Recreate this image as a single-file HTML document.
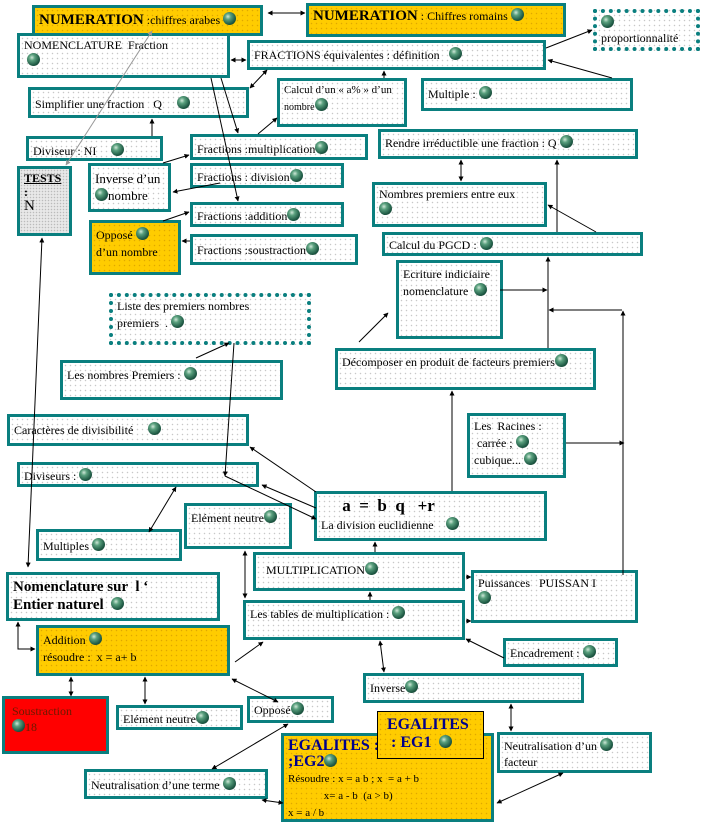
<!DOCTYPE html>
<html><head><meta charset="utf-8"><style>
body{margin:0;width:704px;height:826px;background:#fff;position:relative;overflow:hidden;font-family:"Liberation Serif",serif;font-size:12px;color:#000}
.b{position:absolute;box-sizing:border-box;border:3px solid #0a7f7f;background-color:#fff;background-image:radial-gradient(#c8c8c8 0.6px,transparent 0.9px);background-size:5px 5px;padding:2px 4px;line-height:15px;white-space:nowrap;overflow:hidden}
.y{background-color:#ffcc00;background-image:radial-gradient(#e0a800 0.6px,transparent 0.9px)}
.d{border:4px dotted #0a7f7f}
.g{display:inline-block;width:13px;height:13px;border-radius:50%;background:radial-gradient(circle at 38% 35%,#cfe8d8 0,#5aa07e 25%,#1f5a45 65%,#0b2a20 100%);vertical-align:-1px}
svg{position:absolute;left:0;top:0}
.big{font-weight:bold;font-size:15px}
</style></head><body>
<div class="b y" style="left:32px;top:5px;width:231px;height:31px;padding-top:4px"><span class="big">NUMERATION</span> :chiffres arabes <span class="g"></span></div>
<div class="b y" style="left:306px;top:3px;width:260px;height:34px;padding-top:2px"><span class="big">NUMERATION</span> : Chiffres romains <span class="g"></span></div>
<div class="b d" style="left:593px;top:9px;width:107px;height:42px;padding-top:2px"><span class="g"></span><br>proportionnalité</div>
<div class="b" style="left:17px;top:33px;width:213px;height:45px">NOMENCLATURE &nbsp;Fraction<br>&nbsp;<span class="g"></span></div>
<div class="b" style="left:247px;top:40px;width:299px;height:30px;padding-top:4px">FRACTIONS équivalentes : définition &nbsp;&nbsp;<span class="g"></span></div>
<div class="b" style="left:277px;top:78px;width:130px;height:49px;font-size:11px">Calcul d’un « a% » d’un<br><span style="font-size:10px">nombre</span><span class="g"></span></div>
<div class="b" style="left:421px;top:78px;width:212px;height:33px;padding-top:5px">Multiple : <span class="g"></span></div>
<div class="b" style="left:28px;top:87px;width:221px;height:31px;padding-top:6px">Simplifier une fraction &nbsp;&nbsp;Q &nbsp;&nbsp;&nbsp;&nbsp;<span class="g"></span></div>
<div class="b" style="left:26px;top:136px;width:137px;height:25px;padding-top:4px">Diviseur : NI &nbsp;&nbsp;&nbsp;&nbsp;<span class="g"></span></div>
<div class="b" style="left:190px;top:134px;width:178px;height:26px;padding-top:4px">Fractions :multiplication<span class="g"></span></div>
<div class="b" style="left:378px;top:129px;width:260px;height:30px;padding-top:3px">Rendre irréductible une fraction : Q <span class="g"></span></div>
<div class="b" style="left:17px;top:166px;width:55px;height:70px;background-color:#e8e8e8;background-image:radial-gradient(#bbb 0.6px,transparent 0.9px);background-size:3px 3px;line-height:14px"><b><u>TESTS</u></b><br><b>:</b><br><span style="font-size:15px">N</span></div>
<div class="b" style="left:88px;top:163px;width:83px;height:49px;padding-top:4px;line-height:17px;font-size:13px">Inverse d’un<br><span class="g"></span>nombre</div>
<div class="b" style="left:190px;top:163px;width:154px;height:25px;padding-top:3px">Fractions : division<span class="g"></span></div>
<div class="b" style="left:372px;top:182px;width:175px;height:45px">Nombres premiers entre eux<br><span class="g"></span></div>
<div class="b" style="left:190px;top:202px;width:154px;height:25px;padding-top:3px">Fractions :addition<span class="g"></span></div>
<div class="b y" style="left:89px;top:220px;width:92px;height:55px;padding-top:4px;line-height:17px">Opposé <span class="g"></span><br>d’un nombre</div>
<div class="b" style="left:190px;top:234px;width:168px;height:31px;padding-top:5px">Fractions :soustraction<span class="g"></span></div>
<div class="b" style="left:382px;top:232px;width:261px;height:24px;padding-top:2px">Calcul du PGCD : <span class="g"></span></div>
<div class="b" style="left:396px;top:260px;width:107px;height:79px;padding-top:3px;line-height:17px">Ecriture indiciaire<br>nomenclature &nbsp;<span class="g"></span></div>
<div class="b d" style="left:109px;top:293px;width:202px;height:52px;padding-top:1px;line-height:17px">Liste des premiers nombres<br>premiers &nbsp;. <span class="g"></span></div>
<div class="b" style="left:60px;top:360px;width:223px;height:40px;padding-top:4px">Les nombres Premiers : <span class="g"></span></div>
<div class="b" style="left:335px;top:348px;width:261px;height:42px;padding-top:3px">Décomposer en produit de facteurs premiers<span class="g"></span></div>
<div class="b" style="left:7px;top:414px;width:242px;height:32px;padding-top:5px">Caractères de divisibilité &nbsp;&nbsp;&nbsp;&nbsp;<span class="g"></span></div>
<div class="b" style="left:467px;top:413px;width:99px;height:65px;padding-top:2px;line-height:17px">Les &nbsp;Racines :<br>&nbsp;carrée ; <span class="g"></span><br>cubique... <span class="g"></span></div>
<div class="b" style="left:17px;top:462px;width:242px;height:25px;padding-top:3px">Diviseurs : <span class="g"></span></div>
<div class="b" style="left:314px;top:491px;width:233px;height:50px;padding-top:3px;line-height:18px"><b style="font-size:17px">&nbsp;&nbsp;&nbsp;&nbsp;&nbsp;a &nbsp;= &nbsp;b &nbsp;q &nbsp;&nbsp;+r</b><br>La division euclidienne &nbsp;&nbsp;&nbsp;<span class="g"></span></div>
<div class="b" style="left:184px;top:503px;width:108px;height:46px;padding-top:4px">Elément neutre<span class="g"></span></div>
<div class="b" style="left:36px;top:529px;width:146px;height:32px;padding-top:6px">Multiples <span class="g"></span></div>
<div class="b" style="left:253px;top:552px;width:212px;height:39px;padding-top:7px">&nbsp;&nbsp;MULTIPLICATION<span class="g"></span></div>
<div class="b" style="left:6px;top:572px;width:214px;height:49px;padding-top:3px;font-weight:bold;font-size:15px;line-height:18px">Nomenclature sur &nbsp;l ‘<br>Entier naturel &nbsp;<span class="g"></span></div>
<div class="b" style="left:471px;top:570px;width:167px;height:53px;padding-top:3px">Puissances &nbsp;&nbsp;PUISSAN I<br><span class="g"></span></div>
<div class="b" style="left:243px;top:600px;width:222px;height:40px;padding-top:3px">Les tables de multiplication : <span class="g"></span></div>
<div class="b y" style="left:36px;top:625px;width:194px;height:51px;padding-top:4px;line-height:17px">Addition <span class="g"></span><br>résoudre : &nbsp;x = a+ b</div>
<div class="b" style="left:503px;top:638px;width:115px;height:29px;padding-top:4px">Encadrement : <span class="g"></span></div>
<div class="b" style="left:363px;top:673px;width:221px;height:30px;padding-top:4px">Inverse<span class="g"></span></div>
<div class="b" style="left:2px;top:696px;width:107px;height:58px;background:#ff0000;padding-top:5px;line-height:15px;color:#6a1a00">&nbsp;Soustraction<br>&nbsp;<span class="g"></span>18</div>
<div class="b" style="left:116px;top:705px;width:127px;height:25px;padding-top:3px">Elément neutre<span class="g"></span></div>
<div class="b" style="left:247px;top:696px;width:87px;height:27px;padding-top:3px">Opposé<span class="g"></span></div>
<div class="b y" style="left:281px;top:733px;width:213px;height:89px;padding-top:2px;line-height:16px"><b style="color:#00008b;font-size:16px">EGALITES :</b><br><b style="color:#00008b;font-size:16px">;EG2</b><span class="g"></span><br><span style="font-size:11px">Résoudre : x = a b ; x &nbsp;= a + b<br>&nbsp;&nbsp;&nbsp;&nbsp;&nbsp;&nbsp;&nbsp;&nbsp;&nbsp;&nbsp;&nbsp;&nbsp;&nbsp;x= a - b &nbsp;(a &gt; b)<br>x = a / b</span></div>
<div class="b y" style="left:377px;top:711px;width:107px;height:48px;border:1px solid #000;padding:4px 0 0 9px;line-height:18px;color:#00008b;font-weight:bold;font-size:16px">EGALITES<br>&nbsp;: EG1 &nbsp;<span class="g"></span></div>
<div class="b" style="left:497px;top:732px;width:155px;height:41px;padding-top:3px;line-height:16px">Neutralisation d’un <span class="g"></span><br>facteur</div>
<div class="b" style="left:84px;top:769px;width:184px;height:30px;padding-top:5px">Neutralisation d’une terme <span class="g"></span></div>
<svg width="704" height="826" viewBox="0 0 704 826">
<defs><marker id="a" viewBox="0 0 10 10" refX="9" refY="5" markerWidth="5" markerHeight="5" orient="auto-start-reverse"><path d="M0,0L10,5L0,10z" fill="#000"/></marker>
<marker id="ag" viewBox="0 0 10 10" refX="9" refY="5" markerWidth="5" markerHeight="5" orient="auto-start-reverse"><path d="M0,0L10,5L0,10z" fill="#999"/></marker></defs>
<g stroke="#000" stroke-width="1" fill="none">
<line x1="268" y1="13" x2="305" y2="13" marker-start="url(#a)" marker-end="url(#a)"/>
<line x1="231" y1="60" x2="246" y2="60" marker-start="url(#a)" marker-end="url(#a)"/>
<line x1="152" y1="31" x2="66" y2="165" stroke="#999" marker-start="url(#ag)" marker-end="url(#ag)"/>
<line x1="221" y1="78" x2="238" y2="133" marker-end="url(#a)"/>
<line x1="211" y1="78" x2="238" y2="201" marker-end="url(#a)"/>
<line x1="250" y1="88" x2="267" y2="70" marker-start="url(#a)" marker-end="url(#a)"/>
<line x1="258" y1="134" x2="277" y2="118" marker-end="url(#a)"/>
<line x1="384" y1="78" x2="384" y2="71" marker-end="url(#a)"/>
<line x1="546" y1="48" x2="592" y2="30" marker-end="url(#a)"/>
<line x1="612" y1="78" x2="548" y2="60" marker-end="url(#a)"/>
<line x1="152" y1="136" x2="152" y2="119" marker-end="url(#a)"/>
<line x1="163" y1="163" x2="189" y2="155" marker-end="url(#a)"/>
<line x1="220" y1="183" x2="173" y2="192" marker-end="url(#a)"/>
<line x1="163" y1="221" x2="189" y2="212" marker-end="url(#a)"/>
<line x1="190" y1="241" x2="182" y2="241" marker-end="url(#a)"/>
<line x1="461" y1="160" x2="461" y2="181" marker-start="url(#a)" marker-end="url(#a)"/>
<line x1="557" y1="232" x2="557" y2="160" marker-end="url(#a)"/>
<line x1="596" y1="232" x2="548" y2="205" marker-end="url(#a)"/>
<line x1="548" y1="348" x2="548" y2="257" marker-end="url(#a)"/>
<line x1="500" y1="290" x2="547" y2="290" marker-end="url(#a)"/>
<line x1="622" y1="310" x2="549" y2="310" marker-end="url(#a)"/>
<line x1="623" y1="575" x2="623" y2="311" marker-end="url(#a)"/>
<line x1="566" y1="443" x2="624" y2="443" marker-end="url(#a)"/>
<line x1="452" y1="491" x2="452" y2="391" marker-end="url(#a)"/>
<line x1="359" y1="342" x2="388" y2="313" marker-end="url(#a)"/>
<line x1="196" y1="358" x2="229" y2="343" marker-end="url(#a)"/>
<line x1="234" y1="343" x2="225" y2="476" marker-end="url(#a)"/>
<polyline points="225,476 316,519" marker-end="url(#a)"/>
<line x1="316" y1="492" x2="250" y2="447" marker-end="url(#a)"/>
<line x1="316" y1="508" x2="262" y2="485" marker-end="url(#a)"/>
<line x1="176" y1="487" x2="149" y2="532" marker-start="url(#a)" marker-end="url(#a)"/>
<line x1="42" y1="238" x2="28" y2="567" marker-start="url(#a)" marker-end="url(#a)"/>
<line x1="375" y1="552" x2="375" y2="542" marker-end="url(#a)"/>
<line x1="245" y1="551" x2="245" y2="598" marker-start="url(#a)" marker-end="url(#a)"/>
<line x1="370" y1="600" x2="370" y2="592" marker-end="url(#a)"/>
<line x1="466" y1="577" x2="471" y2="577" marker-end="url(#a)"/>
<line x1="466" y1="621" x2="471" y2="621" marker-end="url(#a)"/>
<line x1="504" y1="658" x2="466" y2="639" marker-end="url(#a)"/>
<line x1="380" y1="641" x2="384" y2="672" marker-start="url(#a)" marker-end="url(#a)"/>
<line x1="235" y1="662" x2="263" y2="642" marker-end="url(#a)"/>
<line x1="232" y1="679" x2="278" y2="702" marker-start="url(#a)" marker-end="url(#a)"/>
<line x1="71" y1="677" x2="71" y2="696" marker-start="url(#a)" marker-end="url(#a)"/>
<line x1="145" y1="677" x2="145" y2="704" marker-start="url(#a)" marker-end="url(#a)"/>
<polyline points="18,622 18,649 35,649" marker-start="url(#a)" marker-end="url(#a)"/>
<line x1="288" y1="724" x2="212" y2="769" marker-start="url(#a)" marker-end="url(#a)"/>
<line x1="511" y1="704" x2="511" y2="731" marker-start="url(#a)" marker-end="url(#a)"/>
<line x1="563" y1="773" x2="497" y2="803" marker-start="url(#a)" marker-end="url(#a)"/>
<line x1="262" y1="800" x2="283" y2="803" marker-start="url(#a)" marker-end="url(#a)"/>
</g></svg>
</body></html>
